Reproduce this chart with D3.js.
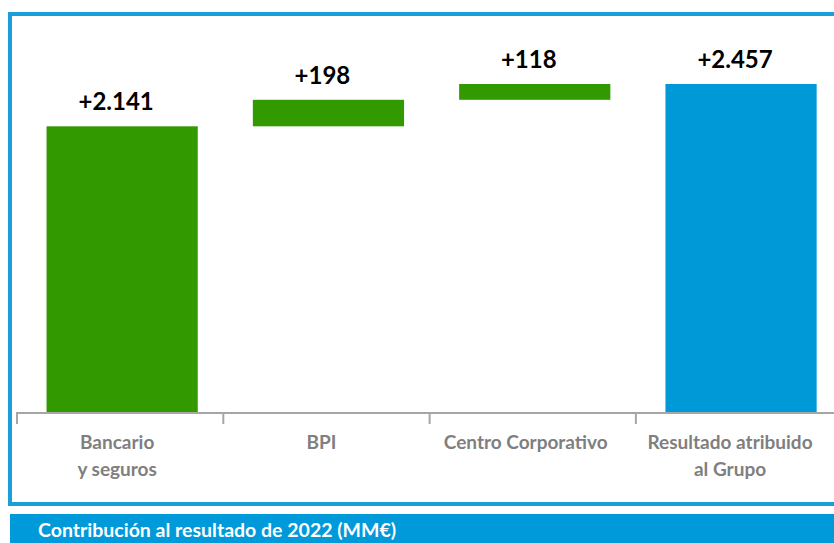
<!DOCTYPE html>
<head>
    <meta charset="utf-8">
    <title>Contribución al resultado</title>
    <script src="https://d3js.org/d3.v7.min.js"></script>
    <style>
        body { margin: 0; background: #fff; }
        svg { display: block; font-family: Lato, "Open Sans", sans-serif; }
    </style>
</head>
<body>
    <div id="container"></div>
    <script>
        //------------------------DATA------------------------//
        var categories = ["Bancario\ny seguros", "BPI", "Centro Corporativo", "Resultado atribuido\nal Grupo"],
            values = [2141, 198, 118, 2457],
            isTotal = [false, false, false, true],
            footerText = "Contribución al resultado de 2022 (MM€)";

        var W = 834, H = 543,
            green = "#339900",
            blue = "#0099d8";

        var locale = d3.formatLocale({ decimal: ",", thousands: ".", grouping: [3], currency: ["", "€"] }),
            fmt = locale.format("+,d");

        // waterfall start/end
        var run = 0;
        var theData = categories.map(function (c, i) {
            var start = isTotal[i] ? 0 : run,
                end = isTotal[i] ? values[i] : run + values[i];
            run = end;
            return { name: c, value: values[i], start: start, end: end, total: isTotal[i] };
        });

        //------------------------SCALES------------------------//
        var x = d3.scaleBand().domain(categories).range([17, 17 + 4 * 206.3]).padding(0),
            y = d3.scaleLinear().domain([0, d3.max(theData, function (d) { return d.end; })]).range([413, 84]),
            barW = x.bandwidth() * 0.733;

        var svg = d3.select("#container").append("svg").attr("width", W).attr("height", H);

        // frame
        svg.append("rect")
            .attr("x", 10).attr("y", 14)
            .attr("width", W).attr("height", 490)
            .attr("fill", "none").attr("stroke", "#1a9fdb").attr("stroke-width", 4);

        //------------------------BARS------------------------//
        svg.selectAll(".bar")
            .data(theData)
            .enter().append("rect")
            .attr("class", "bar")
            .attr("x", function (d) { return x(d.name) + (x.bandwidth() - barW) / 2 + 2; })
            .attr("width", barW)
            .attr("y", function (d) { return y(Math.max(d.start, d.end)); })
            .attr("height", function (d) { return Math.abs(y(d.start) - y(d.end)); })
            .attr("fill", function (d) { return d.total ? blue : green; });

        // value labels
        svg.selectAll(".val")
            .data(theData)
            .enter().append("text")
            .attr("class", "val")
            .attr("x", function (d) { return x(d.name) + x.bandwidth() / 2 - 4; })
            .attr("y", function (d) { return y(Math.max(d.start, d.end)) - 16; })
            .attr("text-anchor", "middle")
            .attr("font-size", 24).attr("font-weight", "bold").attr("fill", "#000")
            .text(function (d) { return fmt(d.value); });

        //------------------------AXIS------------------------//
        var axis = svg.append("g").attr("transform", "translate(0,413)");
        axis.append("line")
            .attr("x1", 16).attr("x2", W)
            .attr("stroke", "#a6a6a6").attr("stroke-width", 2);
        axis.selectAll(".sep")
            .data(categories)
            .enter().append("line")
            .attr("x1", function (d) { return x(d); }).attr("x2", function (d) { return x(d); })
            .attr("y1", 0).attr("y2", 11)
            .attr("stroke", "#a6a6a6").attr("stroke-width", 2);

        var labels = axis.selectAll(".cat")
            .data(categories)
            .enter().append("text")
            .attr("class", "cat")
            .attr("text-anchor", "middle")
            .attr("font-size", 19).attr("font-weight", "bold").attr("fill", "#7f7f7f");
        labels.each(function (d, i) {
            var t = d3.select(this);
            d.split("\n").forEach(function (line, j) {
                t.append("tspan")
                    .attr("x", x(d) + x.bandwidth() / 2 - 3 - i * 2)
                    .attr("y", 36 + j * 27)
                    .text(line);
            });
        });

        //------------------------FOOTER------------------------//
        svg.append("rect")
            .attr("x", 10).attr("y", 514)
            .attr("width", W - 10).attr("height", 29)
            .attr("fill", "#0099da");
        svg.append("text")
            .attr("x", 38).attr("y", 537)
            .attr("font-size", 19.5).attr("font-weight", "bold").attr("fill", "#fff")
            .text(footerText);
    </script>
</body>
